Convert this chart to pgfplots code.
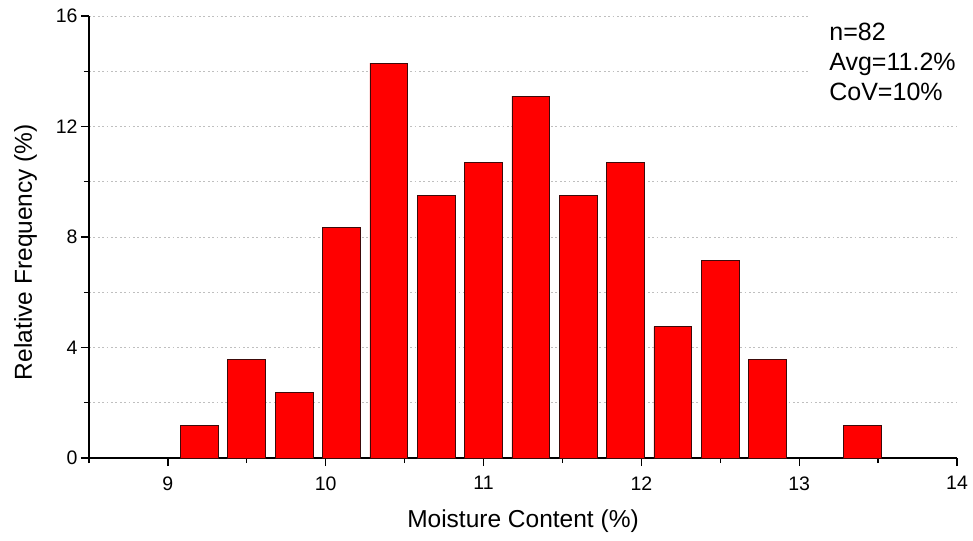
\documentclass[border=0pt]{standalone}
\usepackage{pgfplots}
\pgfplotsset{compat=1.18}
\usepackage{fontspec}
\setmainfont{Liberation Sans}
\begin{document}
\begin{tikzpicture}
\useasboundingbox (-89pt,-82pt) rectangle (884pt,458pt);
\begin{axis}[
  scale only axis,
  width=868pt, height=442pt,
  xmin=8.5, xmax=14, ymin=0, ymax=16,
  axis lines*=left,
  axis line style={line width=1.2pt, black},
  xtick={9,10,11,12,13,14},
  minor xtick={8.5,9.5,10.5,11.5,12.5,13.5},
  ytick={0,4,8,12,16},
  minor ytick={2,6,10,14},
  tick align=outside,
  major tick length=8pt,
  minor tick length=5pt,
  tick style={line width=1.2pt, black},
  ymajorgrids, yminorgrids,
  major grid style={gray!50, line width=0.7pt, dash pattern=on 1.8pt off 2.6pt},
  minor grid style={gray!50, line width=0.7pt, dash pattern=on 1.8pt off 2.6pt},
  /pgf/number format/assume math mode=true,
  tick label style={font=\fontsize{19.5}{23}\selectfont},
  xticklabel style={yshift=-7pt},
  xlabel={Moisture Content (\%)},
  ylabel={Relative Frequency (\%)},
  label style={font=\fontsize{24.5}{29}\selectfont},
  xlabel style={at={(axis description cs:0.5,-0.1425)}, anchor=center},
  ylabel style={at={(axis description cs:-0.073,0.466)}, anchor=center},
  clip=false,
]
\addplot[ybar, bar width=0.24, bar shift=0pt, fill={rgb,255:red,255;green,0;blue,0}, draw={rgb,255:red,60;green,10;blue,10}, line width=0.8pt]
coordinates {
(9.2,1.19) (9.5,3.57) (9.8,2.38) (10.1,8.33) (10.4,14.29) (10.7,9.52)
(11.0,10.71) (11.3,13.10) (11.6,9.52) (11.9,10.71) (12.2,4.76) (12.5,7.14)
(12.8,3.57) (13.4,1.19)
};
\fill[white] (axis cs:13.06,13.2) rectangle (axis cs:14.05,16.6);
\node[anchor=north west, align=left, inner sep=0pt, font=\fontsize{25}{30}\selectfont] at (axis cs:13.19,15.75) {n=82\\Avg=11.2\%\\CoV=10\%};
\end{axis}
\end{tikzpicture}
\end{document}
